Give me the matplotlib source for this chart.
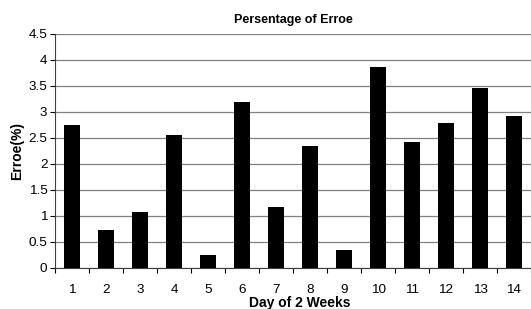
import matplotlib
matplotlib.use("Agg")
import matplotlib.pyplot as plt
import numpy as np

plt.rcParams['font.family'] = ['Liberation Sans', 'DejaVu Sans']

days = [str(i) for i in range(1, 15)]
errors = [2.74, 0.73, 1.08, 2.55, 0.24, 3.19, 1.16, 2.35, 0.34, 3.86, 2.41, 2.78, 3.45, 2.92]
yticks = [0, 0.5, 1, 1.5, 2, 2.5, 3, 3.5, 4, 4.5]

fig = plt.figure(figsize=(5.31, 3.09), dpi=100)
ax = fig.add_axes([0.104, 0.134, 0.896, 0.756])

x = np.arange(1, len(days) + 1)
ax.bar(x, errors, width=0.46, color='black', zorder=3)

ax.set_xlim(0.5, len(days) + 0.5)
ax.set_ylim(0, 4.5)
ax.set_yticks(yticks)
ax.set_yticklabels([f"{v:g}" for v in yticks], fontsize=9.7)
ax.yaxis.grid(True, color='#808080', linewidth=0.9, zorder=0)

ax.set_xticks(x)
ax.set_xticklabels(days, fontsize=9.7)
ax.set_xticks(np.arange(0.5, len(days) + 1, 1), minor=True)
ax.tick_params(axis='x', which='major', length=0, pad=12)
ax.tick_params(axis='x', which='minor', length=3.6, direction='out', width=0.8)
ax.tick_params(axis='y', which='major', length=3.6, direction='out', width=0.8, pad=2)

for s in ['top', 'right']:
    ax.spines[s].set_visible(False)
ax.spines['left'].set_color('#404040')
ax.spines['bottom'].set_color('#404040')

ax.set_title('Persentage of Erroe', fontsize=9, fontweight='bold', pad=8)
ax.set_xlabel('Day of 2 Weeks', fontsize=10, fontweight='bold')
ax.set_ylabel('Erroe(%)', fontsize=10, fontweight='bold')
ax.xaxis.set_label_coords(0.514, -0.122)
ax.yaxis.set_label_coords(-0.066, 0.5)

fig.savefig('out.png', dpi=100)
